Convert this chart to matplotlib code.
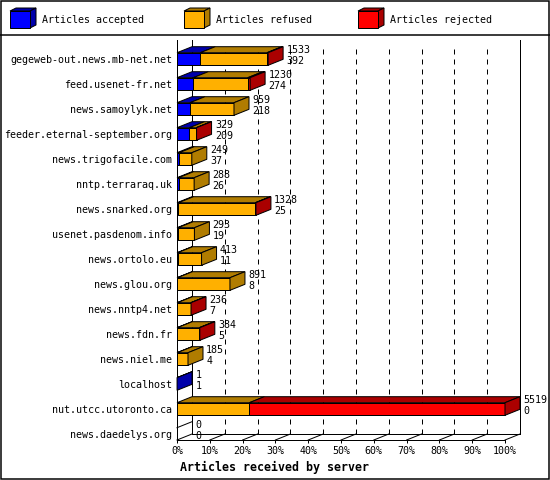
import matplotlib
matplotlib.use('Agg')
import matplotlib.pyplot as plt
from matplotlib.patches import Polygon, Rectangle

plt.rcParams['font.family'] = ['DejaVu Sans Mono']
plt.rcParams['lines.scale_dashes'] = False

servers = ["gegeweb-out.news.mb-net.net", "feed.usenet-fr.net", "news.samoylyk.net",
           "feeder.eternal-september.org", "news.trigofacile.com", "nntp.terraraq.uk",
           "news.snarked.org", "usenet.pasdenom.info", "news.ortolo.eu", "news.glou.org",
           "news.nntp4.net", "news.fdn.fr", "news.niel.me", "localhost",
           "nut.utcc.utoronto.ca", "news.daedelys.org"]
totals = [1533, 1230, 959, 329, 249, 288, 1328, 293, 413, 891, 236, 384, 185, 1, 5519, 0]
accepted = [392, 274, 218, 209, 37, 26, 25, 19, 11, 8, 7, 5, 4, 1, 0, 0]
refused = [1121, 916, 741, 115, 212, 262, 1293, 274, 402, 883, 226, 369, 181, 0, 1217, 0]
rejected = [20, 40, 0, 5, 0, 0, 10, 0, 0, 0, 3, 10, 0, 0, 4302, 0]

series_names = ["Articles accepted", "Articles refused", "Articles rejected"]
front_colors = ["#0000FF", "#FFB000", "#FF0000"]
dark_colors = ["#0000AA", "#B07C00", "#AA0000"]
xtick_values = list(range(0, 101, 10))
xlabel = "Articles received by server"

W, H = 550, 480
fig = plt.figure(figsize=(W / 100, H / 100), dpi=100)
px = 0.72  # one pixel in points

# main axes: front plane
ax = fig.add_axes([177 / W, 40 / H, 328 / W, 400 / H])
ax.set_xlim(0, 100)
ax.set_ylim(15.24, -0.76)
ax.patch.set_alpha(0)

dx = 15 / 3.28      # depth in percent units
dy = 6 / 25         # depth in row units
h = 0.504           # bar height in rows
floor = 15.24
back_floor = floor - dy
top = -0.76

lw = px
# back plane and floor
ax.plot([dx, dx], [back_floor, top], color='black', lw=lw, clip_on=False, zorder=1)
ax.plot([100 + dx, 100 + dx], [back_floor, top], color='black', lw=lw, clip_on=False, zorder=1)
ax.plot([dx, 100 + dx], [back_floor, back_floor], color='black', lw=lw, clip_on=False, zorder=1)
for v in xtick_values:
    ax.plot([v, v + dx], [floor, back_floor], color='black', lw=lw, clip_on=False, zorder=1)
    if 0 < v < 100:
        ax.plot([v + dx, v + dx], [back_floor, top + 0.15], color='black', lw=lw,
                linestyle=(0, (3.6, 3.6)), clip_on=False, zorder=1)

maxv = max(totals)
data = [accepted, refused, rejected]
for i in range(len(servers)):
    x0 = 0.0
    last = None
    yt = i - h / 2
    yb = i + h / 2
    for s in range(3):
        v = data[s][i]
        if v <= 0:
            continue
        x1 = x0 + v / maxv * 100
        ax.add_patch(Polygon([(x0, yt), (x1, yt), (x1, yb), (x0, yb)], closed=True,
                             facecolor=front_colors[s], edgecolor='black', lw=lw,
                             clip_on=False, zorder=3))
        ax.add_patch(Polygon([(x0, yt), (x1, yt), (x1 + dx, yt - dy), (x0 + dx, yt - dy)],
                             closed=True, facecolor=dark_colors[s], edgecolor='black', lw=lw,
                             clip_on=False, zorder=3))
        x0 = x1
        last = s
    if last is not None:
        ax.add_patch(Polygon([(x0, yt), (x0 + dx, yt - dy), (x0 + dx, yb - dy), (x0, yb)],
                             closed=True, facecolor=dark_colors[last], edgecolor='black', lw=lw,
                             clip_on=False, zorder=3))
    else:
        ax.plot([0, dx], [yt, yt - dy], color='black', lw=lw, clip_on=False, zorder=3)
    xl = x0 + dx + 1.0
    ax.text(xl, i - 0.36, str(totals[i]), fontsize=7.2, ha='left', va='center', zorder=5)
    ax.text(xl, i + 0.08, str(accepted[i]), fontsize=7.2, ha='left', va='center', zorder=5)

ax.set_yticks(range(len(servers)))
ax.set_yticklabels(servers, fontsize=7.2)
ax.tick_params(axis='y', length=0, pad=3.6)
ax.set_xticks(xtick_values)
ax.set_xticklabels([f"{v}%" for v in xtick_values], fontsize=7.2)
ax.tick_params(axis='x', length=2.2, width=lw, pad=2)
for sp in ['top', 'right']:
    ax.spines[sp].set_visible(False)
for sp in ['left', 'bottom']:
    ax.spines[sp].set_linewidth(lw)

# overlay for frame, legend and title (pixel coordinates)
ov = fig.add_axes([0, 0, 1, 1])
ov.set_xlim(0, W)
ov.set_ylim(H, 0)
ov.set_axis_off()
ov.add_patch(Rectangle((0.75, 0.75), W - 1.5, H - 1.5, fill=False, edgecolor='black', lw=1.5 * px))
ov.plot([0, W], [35, 35], color='black', lw=1.5 * px)

leg_x = [10, 184, 358]
bw, bh, ldx, ldy = 20, 17, 6, 3
for k in range(3):
    x, y = leg_x[k], 11
    ov.add_patch(Polygon([(x, y), (x + bw, y), (x + bw + ldx, y - ldy), (x + ldx, y - ldy)],
                         closed=True, facecolor=dark_colors[k], edgecolor='black', lw=lw))
    ov.add_patch(Polygon([(x + bw, y), (x + bw + ldx, y - ldy), (x + bw + ldx, y + bh - ldy),
                          (x + bw, y + bh)], closed=True, facecolor=dark_colors[k],
                         edgecolor='black', lw=lw))
    ov.add_patch(Rectangle((x, y), bw, bh, facecolor=front_colors[k], edgecolor='black', lw=lw))
    ov.text(x + 32, 20, series_names[k], fontsize=7.2, ha='left', va='center')

ov.text(180, 467, xlabel, fontsize=8.4, fontweight='bold', ha='left', va='center')

fig.savefig('out.png', dpi=100)
